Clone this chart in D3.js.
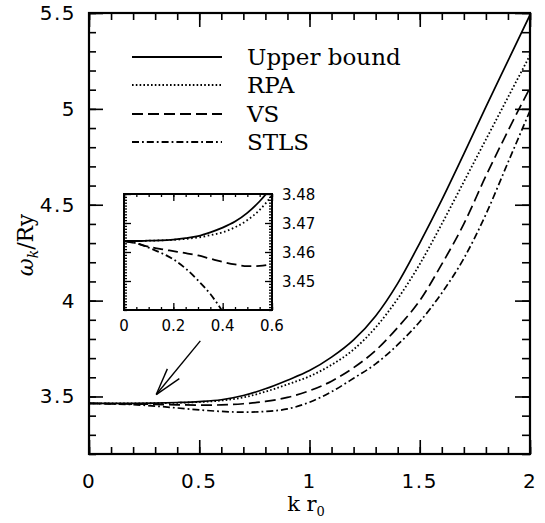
<!DOCTYPE html>
<html><head><meta charset="utf-8">
<script src="https://cdn.jsdelivr.net/npm/d3@7"></script>
<style>
html,body{margin:0;padding:0;background:#fff;}
svg{display:block;}
</style>
</head><body>
<script>
// ---------- data ----------
const kMain = [0,0.1,0.2,0.3,0.4,0.5,0.6,0.7,0.8,0.9,1.0,1.1,1.2,1.3,1.4,1.5,1.6,1.7,1.8,1.9,2.0];
const upperMain = [3.464,3.4641,3.4643,3.4655,3.4685,3.4735,3.483,3.505,3.54,3.585,3.635,3.705,3.795,3.92,4.09,4.30,4.525,4.765,5.01,5.25,5.49];
const rpaMain   = [3.464,3.4641,3.4643,3.465,3.467,3.471,3.479,3.495,3.525,3.563,3.605,3.665,3.745,3.86,4.01,4.19,4.40,4.62,4.84,5.06,5.28];
const vsMain    = [3.464,3.4617,3.4603,3.4588,3.4565,3.455,3.456,3.462,3.474,3.495,3.53,3.58,3.65,3.74,3.86,4.00,4.19,4.40,4.65,4.885,5.11];
const stlsMain  = [3.464,3.4615,3.4575,3.450,3.440,3.430,3.422,3.418,3.422,3.435,3.47,3.525,3.595,3.67,3.77,3.89,4.04,4.22,4.45,4.72,4.99];

const kInset = [0,0.05,0.1,0.15,0.2,0.25,0.3,0.35,0.4,0.45,0.5,0.55,0.6];
const upperInset = [3.4638,3.4638,3.4639,3.464,3.4643,3.4648,3.4655,3.4668,3.4684,3.4705,3.4735,3.4775,3.4825];
const rpaInset   = [3.4638,3.4638,3.4639,3.464,3.4642,3.4645,3.465,3.4658,3.4668,3.4685,3.471,3.4745,3.4795];
const vsInset    = [3.4638,3.463,3.4618,3.461,3.4603,3.4596,3.4588,3.4577,3.4566,3.4557,3.4551,3.4552,3.4558];
const stlsInset  = [3.4638,3.463,3.4615,3.4597,3.4575,3.4543,3.4502,3.4455,3.4395,3.433,3.427,3.423,3.420];

const seriesNames = ["Upper bound","RPA","VS","STLS"];
const seriesDash = [null,"1.6,2.2","11,5","7,3,1.8,3"];

const xTickLabels = ["0","0.5","1","1.5","2"];
const xTickValues = [0,0.5,1,1.5,2];
const yTickLabels = ["3.5","4","4.5","5","5.5"];
const yTickValues = [3.5,4,4.5,5,5.5];
const xInsetTicks = [0,0.2,0.4,0.6];
const xInsetLabels = ["0","0.2","0.4","0.6"];
const yInsetTicks = [3.45,3.46,3.47,3.48];
const yInsetLabels = ["3.45","3.46","3.47","3.48"];

// ---------- layout ----------
const W=545,H=523;
const svg=d3.select("body").append("svg").attr("width",W).attr("height",H);
const x=d3.scaleLinear().domain([0,2]).range([89,530]);
const y=d3.scaleLinear().domain([3.2,5.5]).range([454,13]);

const xi=d3.scaleLinear().domain([0,0.6]).range([124,272]);
const yi=d3.scaleLinear().domain([3.44,3.48]).range([310,194]);

const sansF="DejaVu Sans, Liberation Sans, sans-serif";
const serifF="DejaVu Serif, Liberation Serif, serif";

// clip paths
const defs=svg.append("defs");
defs.append("clipPath").attr("id","mainClip").append("rect")
  .attr("x",89).attr("y",13).attr("width",441).attr("height",441);
defs.append("clipPath").attr("id","insetClip").append("rect")
  .attr("x",124).attr("y",194).attr("width",148).attr("height",116);

// ---------- main ticks ----------
function ticks(g, axisFn, scale, values, size){
  g.call(axisFn(scale).tickValues(values).tickSize(size).tickFormat(""))
   .call(s=>s.select(".domain").remove())
   .call(s=>s.selectAll("line").attr("stroke","#000").attr("stroke-width",1.6));
}
const xMinor=d3.range(0,2.001,0.1).map(v=>+v.toFixed(2));
const yMinor=d3.range(3.2,5.501,0.1).map(v=>+v.toFixed(2));

ticks(svg.append("g").attr("transform","translate(0,454)"), d3.axisBottom, x, xMinor, -7);
ticks(svg.append("g").attr("transform","translate(0,454)"), d3.axisBottom, x, xTickValues, -14);
ticks(svg.append("g").attr("transform","translate(0,13)"), d3.axisTop, x, xMinor, -7);
ticks(svg.append("g").attr("transform","translate(0,13)"), d3.axisTop, x, xTickValues, -14);
ticks(svg.append("g").attr("transform","translate(89,0)"), d3.axisLeft, y, yMinor, -7);
ticks(svg.append("g").attr("transform","translate(89,0)"), d3.axisLeft, y, yTickValues, -14);
ticks(svg.append("g").attr("transform","translate(530,0)"), d3.axisRight, y, yMinor, -8);
ticks(svg.append("g").attr("transform","translate(530,0)"), d3.axisRight, y, yTickValues, -15);

svg.append("rect").attr("x",89).attr("y",13).attr("width",441).attr("height",441)
  .attr("fill","none").attr("stroke","#000").attr("stroke-width",2.2);

// tick labels
svg.append("g").selectAll("text").data(xTickValues).join("text")
  .attr("x",d=>x(d)).attr("y",488).attr("text-anchor","middle")
  .attr("font-family",sansF).attr("font-size",20).attr("letter-spacing",1.5)
  .text((d,i)=>xTickLabels[i]);
svg.append("g").selectAll("text").data(yTickValues).join("text")
  .attr("x",76).attr("y",d=>y(d)+7).attr("text-anchor","end")
  .attr("font-family",sansF).attr("font-size",20).attr("letter-spacing",1.5)
  .text((d,i)=>yTickLabels[i]);

// axis titles
const xl=svg.append("text").attr("x",306).attr("y",511).attr("text-anchor","middle")
  .attr("font-family",serifF).attr("font-size",21);
xl.append("tspan").text("k r");
xl.append("tspan").attr("font-size",13).attr("dy",5).text("0");

const yl=svg.append("text").attr("transform","translate(33,245) rotate(-90)")
  .attr("text-anchor","middle").attr("font-family",serifF).attr("font-size",22);
yl.append("tspan").attr("font-style","italic").text("ω");
yl.append("tspan").attr("font-size",14).attr("dy",5).attr("font-style","italic").text("k");
yl.append("tspan").attr("dy",-5).text("/Ry");

// ---------- main curves ----------
const mainSeries=[upperMain,rpaMain,vsMain,stlsMain];
const lineMain=d3.line().curve(d3.curveMonotoneX);
const gMain=svg.append("g").attr("clip-path","url(#mainClip)");
mainSeries.forEach((s,i)=>{
  gMain.append("path")
    .attr("d",lineMain(kMain.map((k,j)=>[x(k),y(s[j])])))
    .attr("fill","none").attr("stroke","#000")
    .attr("stroke-width",i===1?1.8:1.7)
    .attr("stroke-dasharray",seriesDash[i]);
});

// ---------- legend ----------
const legY=[57,85,114,142];
const leg=svg.append("g");
seriesNames.forEach((n,i)=>{
  leg.append("line").attr("x1",132).attr("x2",222).attr("y1",legY[i]).attr("y2",legY[i])
    .attr("stroke","#000").attr("stroke-width",i===1?1.9:1.9).attr("stroke-dasharray",seriesDash[i]);
  leg.append("text").attr("x",247).attr("y",legY[i]+8).attr("font-family",serifF)
    .attr("font-size",23).text(n);
});

// ---------- inset ----------
const ixMinor=d3.range(0,0.601,0.05).map(v=>+v.toFixed(3));
const iyMinor=d3.range(3.44,3.4801,0.001).map(v=>+v.toFixed(4));
function iticks(g, axisFn, scale, values, size){
  g.call(axisFn(scale).tickValues(values).tickSize(size).tickFormat(""))
   .call(s=>s.select(".domain").remove())
   .call(s=>s.selectAll("line").attr("stroke","#000").attr("stroke-width",1.3));
}
iticks(svg.append("g").attr("transform","translate(0,310)"), d3.axisBottom, xi, ixMinor, -3);
iticks(svg.append("g").attr("transform","translate(0,310)"), d3.axisBottom, xi, xInsetTicks, -7);
iticks(svg.append("g").attr("transform","translate(0,194)"), d3.axisTop, xi, ixMinor, -3);
iticks(svg.append("g").attr("transform","translate(0,194)"), d3.axisTop, xi, xInsetTicks, -7);
iticks(svg.append("g").attr("transform","translate(124,0)"), d3.axisLeft, yi, iyMinor, -3);
iticks(svg.append("g").attr("transform","translate(124,0)"), d3.axisLeft, yi, yInsetTicks, -7);
iticks(svg.append("g").attr("transform","translate(272,0)"), d3.axisRight, yi, iyMinor, -3);
iticks(svg.append("g").attr("transform","translate(272,0)"), d3.axisRight, yi, yInsetTicks, -7);

svg.append("rect").attr("x",124).attr("y",194).attr("width",148).attr("height",116)
  .attr("fill","none").attr("stroke","#000").attr("stroke-width",2);

const insetSeries=[upperInset,rpaInset,vsInset,stlsInset];
const insetDash=[null,"1.6,2.6","10,5","7,3,1.8,3"];
const gIn=svg.append("g").attr("clip-path","url(#insetClip)");
insetSeries.forEach((s,i)=>{
  gIn.append("path")
    .attr("d",lineMain(kInset.map((k,j)=>[xi(k),yi(s[j])])))
    .attr("fill","none").attr("stroke","#000").attr("stroke-width",1.8)
    .attr("stroke-dasharray",insetDash[i]);
});

svg.append("g").selectAll("text").data(xInsetTicks).join("text")
  .attr("x",d=>xi(d)).attr("y",331).attr("text-anchor","middle")
  .attr("font-family",sansF).attr("font-size",15)
  .text((d,i)=>xInsetLabels[i]);
svg.append("g").selectAll("text").data(yInsetTicks).join("text")
  .attr("x",282).attr("y",d=>yi(d)+5.5).attr("text-anchor","start")
  .attr("font-family",sansF).attr("font-size",15)
  .text((d,i)=>yInsetLabels[i]);

// ---------- arrow ----------
const tip=[x(0.305),y(3.51)], tail=[x(0.505),y(3.79)];
const ang=Math.atan2(tail[1]-tip[1],tail[0]-tip[0]);
const arr=svg.append("g").attr("stroke","#000").attr("stroke-width",1.4).attr("fill","none");
arr.append("line").attr("x1",tip[0]).attr("y1",tip[1]).attr("x2",tail[0]).attr("y2",tail[1]);
[-0.28,0.28].forEach(da=>{
  arr.append("line").attr("x1",tip[0]).attr("y1",tip[1])
    .attr("x2",tip[0]+28*Math.cos(ang+da)).attr("y2",tip[1]+28*Math.sin(ang+da));
});
</script>
</body></html>
